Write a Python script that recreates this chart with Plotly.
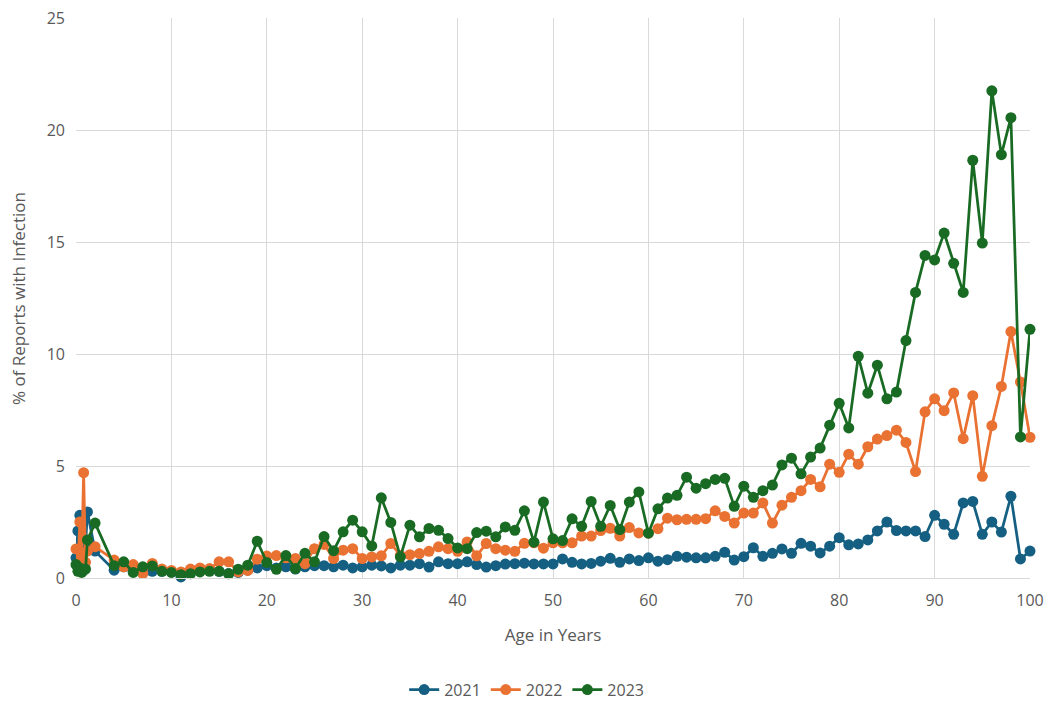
import plotly.graph_objects as go

ages = [0, 0.2, 0.4, 0.6, 0.8, 1.0, 1.2, 2] + list(range(4, 101))

y2021 = [0.9, 2.1, 2.8, 0.6, 1.2, 1.5, 2.95, 1.2,
         0.35, 0.5, 0.3, 0.25, 0.3, 0.3, 0.27, 0.05, 0.35, 0.4, 0.35, 0.3, 0.2, 0.25, 0.35, 0.45,
         0.55, 0.45, 0.5, 0.4, 0.5, 0.55, 0.55, 0.5, 0.57, 0.45, 0.5, 0.57, 0.54, 0.45, 0.57, 0.57,
         0.64, 0.49, 0.72, 0.64, 0.64, 0.72, 0.6, 0.49, 0.55, 0.62, 0.64, 0.66, 0.63, 0.63, 0.63,
         0.85, 0.7, 0.63, 0.65, 0.75, 0.88, 0.7, 0.85, 0.78, 0.9, 0.75, 0.82, 0.97, 0.93, 0.9,
         0.9, 0.97, 1.15, 0.8, 0.95, 1.35, 0.97, 1.1, 1.3, 1.1, 1.55, 1.42, 1.12, 1.42, 1.8,
         1.48, 1.52, 1.7, 2.1, 2.5, 2.12, 2.1, 2.1, 1.85, 2.8, 2.4, 1.95, 3.35, 3.42, 1.95,
         2.5, 2.05, 3.65, 0.85, 1.2]

y2022 = [1.3, 0.5, 2.5, 1.0, 4.7, 0.7, 1.2, 1.4,
         0.8, 0.5, 0.6, 0.2, 0.65, 0.4, 0.34, 0.27, 0.4, 0.45, 0.42, 0.72, 0.72, 0.27, 0.34, 0.84,
         0.98, 1.0, 0.9, 0.87, 0.64, 1.31, 1.5, 0.87, 1.24, 1.31, 0.87, 0.94, 0.99, 1.54, 1.01, 1.04,
         1.09, 1.19, 1.39, 1.31, 1.19, 1.61, 0.99, 1.54, 1.31, 1.24, 1.19, 1.55, 1.57, 1.33, 1.57,
         1.57, 1.57, 1.87, 1.87, 2.12, 2.22, 1.87, 2.25, 2.01, 2.0, 2.2, 2.67, 2.6, 2.62, 2.62,
         2.65, 3.0, 2.75, 2.45, 2.9, 2.9, 3.35, 2.45, 3.25, 3.6, 3.9, 4.4, 4.07, 5.08, 4.72,
         5.53, 5.08, 5.86, 6.2, 6.36, 6.6, 6.05, 4.75, 7.42, 8.0, 7.47, 8.26, 6.22, 8.14, 4.54,
         6.8, 8.55, 11.0, 8.75, 6.28]

y2023 = [0.6, 0.3, 0.45, 0.25, 0.35, 0.4, 1.7, 2.45,
         0.55, 0.72, 0.25, 0.5, 0.54, 0.3, 0.25, 0.15, 0.19, 0.27, 0.3, 0.3, 0.19, 0.39, 0.57, 1.64,
         0.69, 0.39, 1.0, 0.42, 1.1, 0.72, 1.85, 1.22, 2.06, 2.58, 2.06, 1.43, 3.58, 2.48, 0.94, 2.36,
         1.84, 2.21, 2.13, 1.76, 1.34, 1.31, 2.03, 2.09, 1.84, 2.28, 2.13, 3.0, 1.6, 3.39, 1.75,
         1.67, 2.64, 2.31, 3.42, 2.31, 3.24, 2.16, 3.39, 3.84, 2.0, 3.09, 3.57, 3.69, 4.5, 4.01,
         4.21, 4.4, 4.45, 3.2, 4.1, 3.6, 3.9, 4.15, 5.05, 5.35, 4.65, 5.4, 5.8, 6.82, 7.8,
         6.7, 9.9, 8.25, 9.5, 8.0, 8.3, 10.6, 12.75, 14.4, 14.2, 15.4, 14.05, 12.75, 18.65, 14.95,
         21.75, 18.9, 20.55, 6.3, 11.1]

series = [("2021", y2021, "#156082"), ("2022", y2022, "#E97132"), ("2023", y2023, "#196B24")]

x_ticks = list(range(0, 101, 10))
y_ticks = list(range(0, 26, 5))

fig = go.Figure()
for name, vals, color in series:
    fig.add_trace(go.Scatter(
        x=ages, y=vals, name=name, mode="lines+markers",
        line=dict(color=color, width=2.75),
        marker=dict(color=color, size=11),
        cliponaxis=False,
    ))

font_color = "#595959"
fig.update_layout(
    width=1045, height=703,
    margin=dict(l=76, r=15, t=18, b=125, autoexpand=False),
    paper_bgcolor="white", plot_bgcolor="white",
    font=dict(family="Open Sans, Lato, sans-serif", color=font_color, size=16),
    legend=dict(orientation="h", xref="container", yref="container",
                x=0.504, xanchor="center", y=0.019, yanchor="middle",
                font=dict(size=16, color=font_color)),
    showlegend=True,
)
fig.add_annotation(
    text="% of Reports with Infection", textangle=-90,
    xref="paper", yref="paper", x=-0.0608, y=0.5, xanchor="center", yanchor="middle",
    showarrow=False, font=dict(size=17, color=font_color),
)
fig.update_xaxes(
    range=[0, 100], tickvals=x_ticks, showgrid=True, gridcolor="#D9D9D9", gridwidth=1,
    zeroline=False, showline=True, linecolor="#D9D9D9", mirror=False, automargin=False,
    title=dict(text="Age in Years", font=dict(size=17, color=font_color), standoff=18),
    ticks="", tickfont=dict(size=16, color=font_color), ticklabelstandoff=8,
    ticklabeloverflow="allow",
)
fig.update_yaxes(
    range=[0, 25], tickvals=y_ticks, showgrid=True, gridcolor="#D9D9D9", gridwidth=1,
    zeroline=False, showline=False, automargin=False,
    ticks="", tickfont=dict(size=16, color=font_color), ticklabelstandoff=10,
    ticklabeloverflow="allow",
)
fig.write_html("out.html", config={"displayModeBar": False},
               post_script="document.body.style.margin='0';")
